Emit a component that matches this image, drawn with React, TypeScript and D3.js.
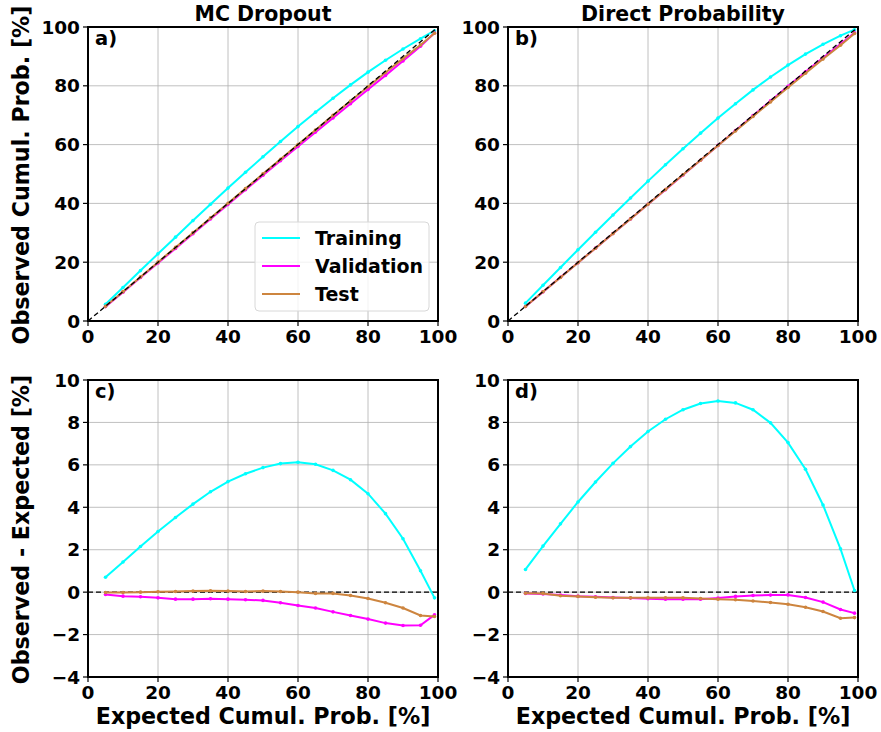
import React from "react";
import * as d3 from "d3";

const expected = [5, 10, 15, 20, 25, 30, 35, 40, 45, 50, 55, 60, 65, 70, 75, 80, 85, 90, 95, 99];

// MC Dropout: observed cumulative probability [%]
const mcTrainObs = [5.7, 11.42, 17.15, 22.86, 28.52, 34.15, 39.73, 45.21, 50.58, 55.87, 61.06, 66.12, 71.03, 75.74, 80.3, 84.64, 88.7, 92.52, 96.01, 98.73];
const mcValObs = [4.89, 9.81, 14.78, 19.73, 24.67, 29.67, 34.69, 39.67, 44.64, 49.61, 54.5, 59.37, 64.25, 69.07, 73.9, 78.73, 83.54, 88.43, 93.44, 97.93];
const mcTestObs = [4.98, 9.98, 15.0, 20.02, 25.03, 30.05, 35.06, 40.05, 45.03, 50.05, 55.03, 60.0, 64.94, 69.94, 74.84, 79.7, 84.5, 89.25, 93.9, 97.85];
// Direct Probability: observed cumulative probability [%]
const dpTrainObs = [6.07, 12.17, 18.22, 24.25, 30.19, 36.07, 41.86, 47.57, 53.15, 58.6, 63.89, 69.01, 73.92, 78.6, 82.98, 87.05, 90.79, 94.11, 97.04, 99.08];
const dpValObs = [4.94, 9.91, 14.86, 19.81, 24.78, 29.75, 34.72, 39.69, 44.67, 49.67, 54.67, 59.72, 64.8, 69.84, 74.86, 79.87, 84.75, 89.53, 94.18, 98.01];
const dpTestObs = [4.95, 9.94, 14.83, 19.8, 24.76, 29.73, 34.73, 39.73, 44.73, 49.73, 54.7, 59.67, 64.64, 69.58, 74.51, 79.43, 84.29, 89.09, 93.77, 97.8];

// Observed - Expected [%]
const mcTrainDiff = [0.7, 1.42, 2.15, 2.86, 3.52, 4.15, 4.73, 5.21, 5.58, 5.87, 6.06, 6.12, 6.03, 5.74, 5.3, 4.64, 3.7, 2.52, 1.01, -0.27];
const mcValDiff = [-0.11, -0.19, -0.22, -0.27, -0.33, -0.33, -0.31, -0.33, -0.36, -0.39, -0.5, -0.63, -0.75, -0.93, -1.1, -1.27, -1.46, -1.57, -1.56, -1.07];
const mcTestDiff = [-0.02, -0.02, 0.0, 0.02, 0.03, 0.05, 0.06, 0.05, 0.03, 0.05, 0.03, 0.0, -0.06, -0.06, -0.16, -0.3, -0.5, -0.75, -1.1, -1.15];
const dpTrainDiff = [1.07, 2.17, 3.22, 4.25, 5.19, 6.07, 6.86, 7.57, 8.15, 8.6, 8.89, 9.01, 8.92, 8.6, 7.98, 7.05, 5.79, 4.11, 2.04, 0.08];
const dpValDiff = [-0.06, -0.09, -0.14, -0.19, -0.22, -0.25, -0.28, -0.31, -0.33, -0.33, -0.33, -0.28, -0.2, -0.16, -0.14, -0.13, -0.25, -0.47, -0.82, -0.99];
const dpTestDiff = [-0.05, -0.06, -0.17, -0.2, -0.24, -0.27, -0.27, -0.27, -0.27, -0.27, -0.3, -0.33, -0.36, -0.42, -0.49, -0.57, -0.71, -0.91, -1.23, -1.2];

const seriesNames = ["Training", "Validation", "Test"];
const seriesColors = ["#00ffff", "#ff00ff", "#cd853f"];
const xTicks = [0, 20, 40, 60, 80, 100];
const topYTicks = [0, 20, 40, 60, 80, 100];
const botYTicks = [-4, -2, 0, 2, 4, 6, 8, 10];

const FONT = "'DejaVu Sans', sans-serif";

type PanelProps = {
  x0: number; x1: number; y0: number; y1: number;
  yDomain: [number, number]; yTicks: number[];
  series: number[][]; label: string; top: boolean; legend?: boolean;
};

function Panel({ x0, x1, y0, y1, yDomain, yTicks, series, label, top, legend }: PanelProps) {
  const xs = d3.scaleLinear().domain([0, 100]).range([x0, x1]);
  const ys = d3.scaleLinear().domain(yDomain).range([y1, y0]);
  const line = d3.line<number>().x((_, i) => xs(expected[i])).y((d) => ys(d));
  const refLine = top
    ? <line x1={xs(0)} y1={ys(0)} x2={xs(100)} y2={ys(100)} stroke="#000" strokeWidth={1.3} strokeDasharray="5,3" />
    : <line x1={xs(0)} y1={ys(0)} x2={xs(100)} y2={ys(0)} stroke="#000" strokeWidth={1.3} strokeDasharray="5,3" />;
  return (
    <g>
      {xTicks.map((t) => (
        <line key={"gx" + t} x1={xs(t)} x2={xs(t)} y1={y0} y2={y1} stroke="#b0b0b0" strokeWidth={0.8} />
      ))}
      {yTicks.map((t) => (
        <line key={"gy" + t} x1={x0} x2={x1} y1={ys(t)} y2={ys(t)} stroke="#b0b0b0" strokeWidth={0.8} />
      ))}
      {!top && refLine}
      {series.map((s, k) => (
        <g key={"s" + k}>
          <path d={line(s) || ""} fill="none" stroke={seriesColors[k]} strokeWidth={2} />
          {s.map((v, i) => (
            <circle key={i} cx={xs(expected[i])} cy={ys(v)} r={1.8} fill={seriesColors[k]} />
          ))}
        </g>
      ))}
      {top && refLine}
      <rect x={x0} y={y0} width={x1 - x0} height={y1 - y0} fill="none" stroke="#000" strokeWidth={2} />
      {xTicks.map((t) => (
        <g key={"tx" + t}>
          <line x1={xs(t)} x2={xs(t)} y1={y1} y2={y1 + 5} stroke="#000" strokeWidth={1.2} />
          <text x={xs(t)} y={y1 + 22} textAnchor="middle" fontSize={18.5} fontWeight="bold" fontFamily={FONT}>{t}</text>
        </g>
      ))}
      {yTicks.map((t) => (
        <g key={"ty" + t}>
          <line x1={x0 - 5} x2={x0} y1={ys(t)} y2={ys(t)} stroke="#000" strokeWidth={1.2} />
          <text x={x0 - 8} y={ys(t) + 6.5} textAnchor="end" fontSize={18.5} fontWeight="bold" fontFamily={FONT}>
            {t < 0 ? "\u2212" + Math.abs(t) : t}
          </text>
        </g>
      ))}
      <text x={x0 + 7} y={y0 + 18} fontSize={19.5} fontWeight="bold" fontFamily={FONT}>{label}</text>
      {legend && (
        <g>
          <rect x={255} y={222} width={174} height={89} rx={4} fill="#fff" fillOpacity={0.8} stroke="#d8d8d8" strokeWidth={1} />
          {seriesNames.map((n, k) => (
            <g key={n}>
              <line x1={262} x2={300} y1={238 + k * 28} y2={238 + k * 28} stroke={seriesColors[k]} strokeWidth={2} />
              <text x={315} y={244.5 + k * 28} fontSize={19} fontWeight="bold" fontFamily={FONT}>{n}</text>
            </g>
          ))}
        </g>
      )}
    </g>
  );
}

export default function App() {
  const lx0 = 88, lx1 = 438, rx0 = 508, rx1 = 858;
  const ty0 = 27, ty1 = 321, by0 = 380, by1 = 677;
  return (
    <svg width={881} height={732} style={{ position: "absolute", left: 0, top: 0, background: "#fff" }}>
      <rect width={881} height={732} fill="#fff" />
      <text x={(lx0 + lx1) / 2} y={20.5} textAnchor="middle" fontSize={20.5} fontWeight="bold" fontFamily={FONT}>MC Dropout</text>
      <text x={(rx0 + rx1) / 2} y={20.5} textAnchor="middle" fontSize={20.5} fontWeight="bold" fontFamily={FONT}>Direct Probability</text>
      <Panel x0={lx0} x1={lx1} y0={ty0} y1={ty1} yDomain={[0, 100]} yTicks={topYTicks}
        series={[mcTrainObs, mcValObs, mcTestObs]} label="a)" top legend />
      <Panel x0={rx0} x1={rx1} y0={ty0} y1={ty1} yDomain={[0, 100]} yTicks={topYTicks}
        series={[dpTrainObs, dpValObs, dpTestObs]} label="b)" top />
      <Panel x0={lx0} x1={lx1} y0={by0} y1={by1} yDomain={[-4, 10]} yTicks={botYTicks}
        series={[mcTrainDiff, mcValDiff, mcTestDiff]} label="c)" top={false} />
      <Panel x0={rx0} x1={rx1} y0={by0} y1={by1} yDomain={[-4, 10]} yTicks={botYTicks}
        series={[dpTrainDiff, dpValDiff, dpTestDiff]} label="d)" top={false} />
      <text transform={`translate(28.5,${(ty0 + ty1) / 2 + 1}) rotate(-90)`} textAnchor="middle" fontSize={22.2} fontWeight="bold" fontFamily={FONT}>Observed Cumul. Prob. [%]</text>
      <text transform={`translate(28.5,${(by0 + by1) / 2 + 1}) rotate(-90)`} textAnchor="middle" fontSize={22.2} fontWeight="bold" fontFamily={FONT}>Observed - Expected [%]</text>
      <text x={(lx0 + lx1) / 2} y={724} textAnchor="middle" fontSize={22.2} fontWeight="bold" fontFamily={FONT}>Expected Cumul. Prob. [%]</text>
      <text x={(rx0 + rx1) / 2} y={724} textAnchor="middle" fontSize={22.2} fontWeight="bold" fontFamily={FONT}>Expected Cumul. Prob. [%]</text>
    </svg>
  );
}
